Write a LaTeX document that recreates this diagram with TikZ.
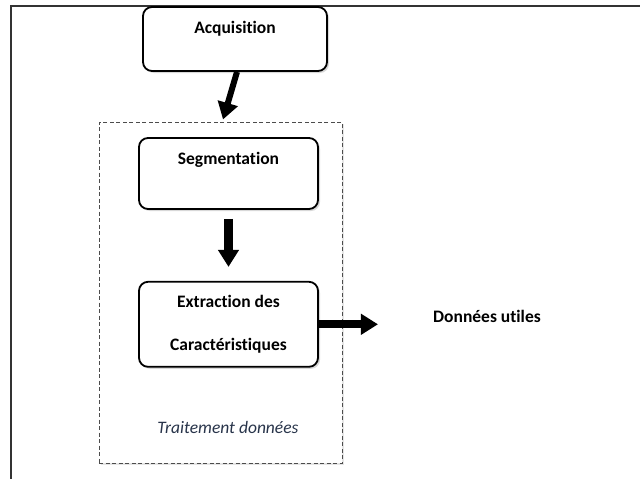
\documentclass[tikz,border=0pt]{standalone}
\usepackage{fontspec}
\setmainfont{Carlito}[Ligatures=NoCommon]
\usepackage{xcolor}
\usepackage{tikz}
\usetikzlibrary{arrows.meta, positioning, shadows}
\definecolor{capcol}{RGB}{40,52,74}
\tikzset{
    frame/.style={draw=black!80, line width=1.3pt},
    stepbox/.style={rectangle, rounded corners=9pt, draw, line width=1.8pt, fill=white, inner xsep=0pt, inner ysep=0pt, align=center, font=\bfseries\fontsize{17.5}{21}\selectfont, drop shadow={shadow xshift=2pt, shadow yshift=-2pt, fill=black!30}},
    group/.style={rectangle, draw=black!70, dash pattern=on 4pt off 2.5pt, line width=1pt, fill=white, minimum width=243pt, minimum height=341pt, drop shadow={shadow xshift=2pt, shadow yshift=-2pt, fill=black!20}},
    arrow/.style={-{Triangle[length=17pt, width=20pt]}, line width=7pt}
}
\begin{document}
\begin{tikzpicture}[x=1pt, y=-1pt, node distance=71pt]
            \useasboundingbox (0,0) rectangle (640,479);
            \draw[frame] (11,479) |- (640,6);

            \node (proc) [group] at (220.5,292.5) {};
            \node (acq) [stepbox, minimum width=184pt, text height=27pt, text depth=37pt] at (235,39) {Acquisition};
            \node (seg) [stepbox, minimum width=179pt, text height=26.5pt, text depth=44.5pt] at (228.5,173.5) {Segmentation};
            \node (ext) [stepbox, minimum width=179pt, minimum height=85pt, below=of seg] {Extraction des\\[22.5pt]Caractéristiques};
            \node (out) [inner sep=0pt, font=\bfseries\fontsize{17.5}{21}\selectfont] at (487,316) {Données utiles};
            \node (cap) [inner sep=0pt, text=capcol, font=\itshape\fontsize{17.5}{21}\selectfont] at (228,427) {Traitement données};

            \draw[arrow, line width=6pt] ([xshift=2pt]acq.south) -- ([xshift=2.5pt, yshift=2pt]proc.north);
            \draw[arrow, line width=9pt] ([yshift=-9pt]seg.south) -- ([yshift=14pt]ext.north);
            \draw[arrow, line width=8pt, shorten >=55pt] (ext.east) -- (ext.east -| out.west);
        \end{tikzpicture}
\end{document}
